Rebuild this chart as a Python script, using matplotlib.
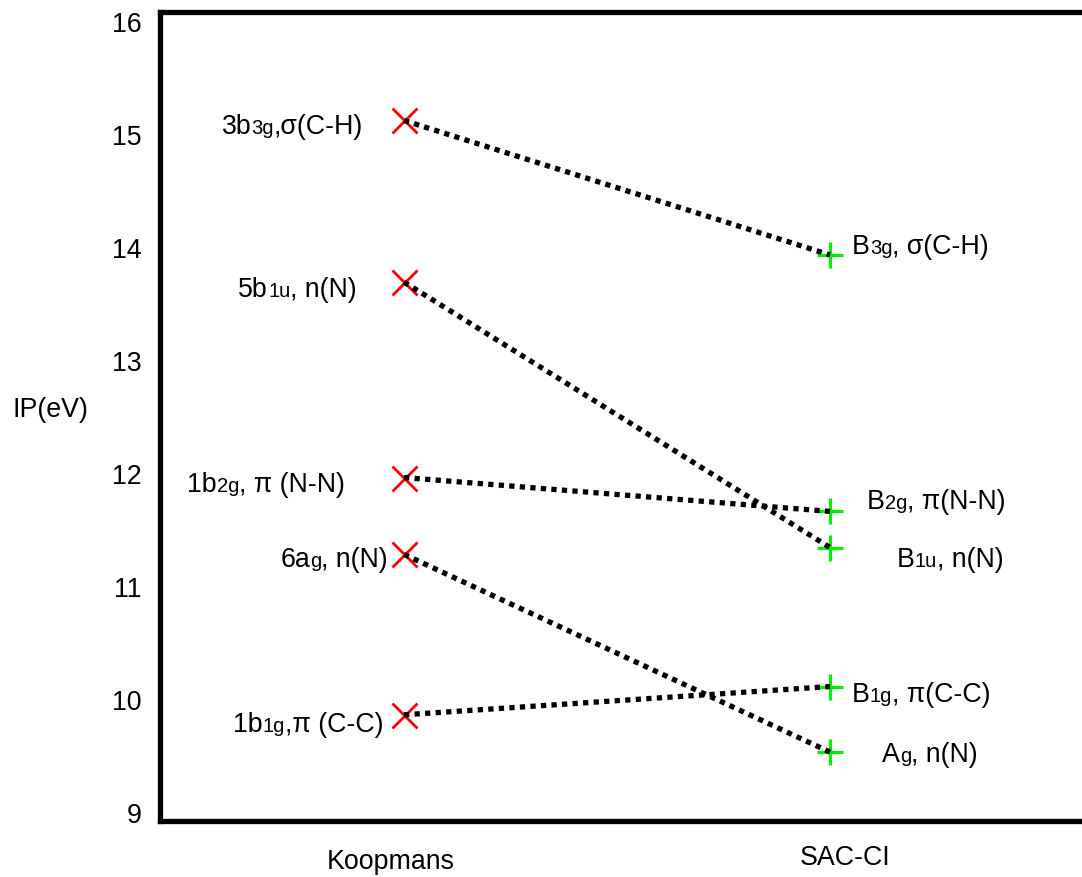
import matplotlib
matplotlib.use("Agg")
import matplotlib.pyplot as plt
from matplotlib.offsetbox import TextArea, HPacker, AnnotationBbox

plt.rcParams['font.family'] = ['Liberation Sans', 'DejaVu Sans']

# ---- data ----
methods = ["Koopmans", "SAC-CI"]
koopmans_ip = [15.12, 13.69, 11.96, 11.28, 9.86]
sacci_ip = [13.93, 11.66, 11.34, 10.11, 9.53]
# pairing: index into sacci_ip for each Koopmans level
pairing = [0, 2, 1, 4, 3]
# labels as (main, subscript, rest)
koopmans_labels = [("3b", "3g", ",σ(C-H)"),
                   ("5b", "1u", ", n(N)"),
                   ("1b", "2g", ", π (N-N)"),
                   ("6a", "g", ", n(N)"),
                   ("1b", "1g", ",π (C-C)")]
sacci_labels = [("B", "3g", ", σ(C-H)"),
                ("B", "2g", ", π(N-N)"),
                ("B", "1u", ", n(N)"),
                ("B", "1g", ", π(C-C)"),
                ("A", "g", ", n(N)")]
yticks = [9, 10, 11, 12, 13, 14, 15, 16]

# ---- layout (pixel offsets of labels from markers) ----
k_off = [(-41, -6), (-47, -7), (-59, -6), (-16, -5), (-21, -9)]
s_off = [(22, 9), (37, 10), (67, -11), (22, -7), (52, -2)]
FS, FS_SUB = 19.3, 14.5

W, H = 1082, 878
fig = plt.figure(figsize=(W / 100, H / 100), dpi=100)
ax = fig.add_axes([160 / W, 1 - 822 / H, 940 / W, 809 / H])
ax.set_xlim(0.4272, 2.6338)
ax.set_ylim(8.92, 16.08)
for s in ax.spines.values():
    s.set_linewidth(3.8)
ax.spines['right'].set_visible(False)
ax.set_xticks([])
ax.set_yticks(yticks)
ax.set_yticklabels([str(t) for t in yticks])
ax.tick_params(axis='y', length=0, pad=13, labelsize=FS)

xk, xs = 1, 2
ax.plot([xk] * len(koopmans_ip), koopmans_ip, ls='none', marker='x',
        ms=18, mew=2, color='#ff0000', zorder=3)
ax.plot([xs] * len(sacci_ip), sacci_ip, ls='none', marker='+',
        ms=19, mew=2.3, color='#00ee00', zorder=3)
for i, j in enumerate(pairing):
    ax.plot([xk, xs], [koopmans_ip[i], sacci_ip[j]], color='black',
            lw=3.8, ls=(0, (1.0, 1.0)), zorder=4, solid_capstyle='butt')


def label_box(parts):
    main, sub, rest = parts
    items = [TextArea(main, textprops=dict(fontsize=FS)),
             TextArea(sub, textprops=dict(fontsize=FS_SUB)),
             TextArea(rest, textprops=dict(fontsize=FS))]
    return HPacker(children=items, align="baseline", pad=0, sep=0)


for i, parts in enumerate(koopmans_labels):
    ab = AnnotationBbox(label_box(parts), (xk, koopmans_ip[i]),
                        xybox=k_off[i], boxcoords="offset pixels",
                        box_alignment=(1, 0.5), frameon=False, pad=0)
    ax.add_artist(ab)
for i, parts in enumerate(sacci_labels):
    ab = AnnotationBbox(label_box(parts), (xs, sacci_ip[i]),
                        xybox=s_off[i], boxcoords="offset pixels",
                        box_alignment=(0, 0.5), frameon=False, pad=0)
    ax.add_artist(ab)

fig.text(391 / W, 1 - 862 / H, methods[0], fontsize=FS, ha='center', va='center')
fig.text(845 / W, 1 - 858 / H, methods[1], fontsize=FS, ha='center', va='center')
fig.text(50 / W, 1 - 410 / H, "IP(eV)", fontsize=FS, ha='center', va='center')

fig.savefig("out.png", dpi=100)
